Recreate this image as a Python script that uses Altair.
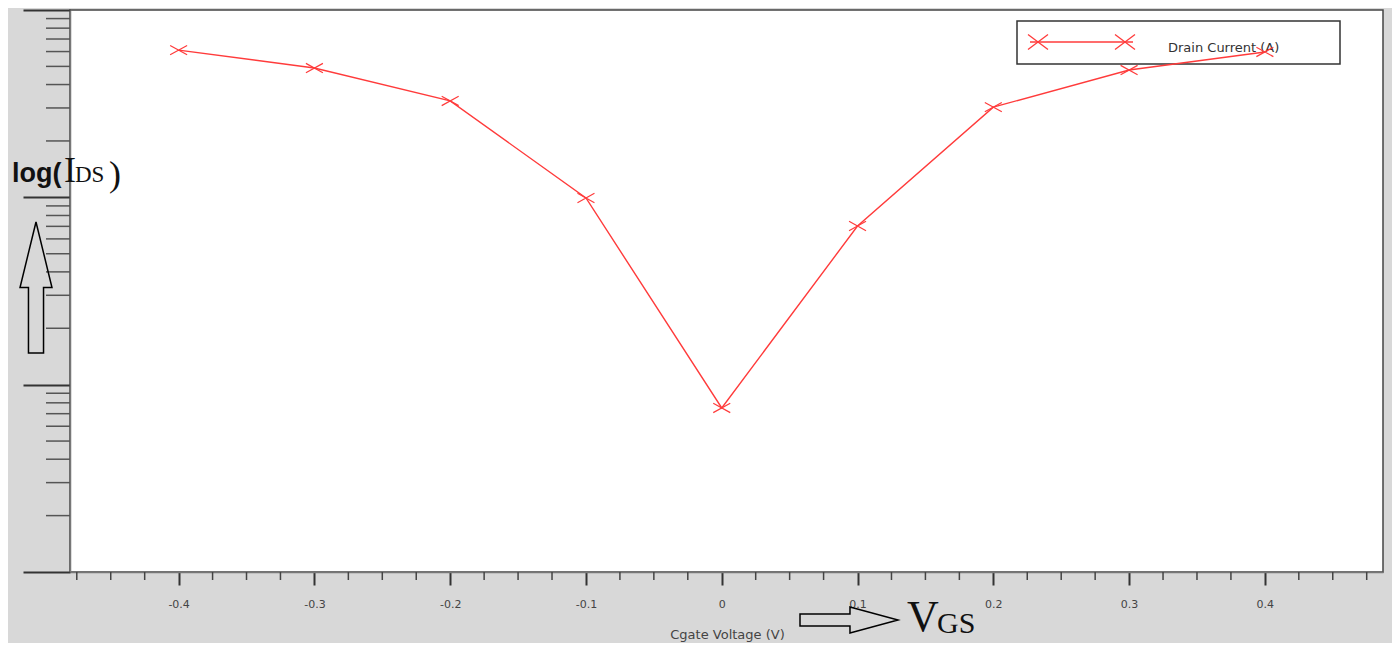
import altair as alt
import pandas as pd

# ---- data ----
vgs = [-0.4, -0.3, -0.2, -0.1, 0.0, 0.1, 0.2, 0.3, 0.4]
ids = [6.11e-5, 4.90e-5, 3.27e-5, 9.92e-6, 7.51e-7, 7.03e-6, 3.03e-5, 4.78e-5, 5.97e-5]

x_major = [-0.4, -0.3, -0.2, -0.1, 0.0, 0.1, 0.2, 0.3, 0.4]
x_minor = [-0.475, -0.45, -0.425, -0.375, -0.35, -0.325, -0.275, -0.25, -0.225,
           -0.175, -0.15, -0.125, -0.075, -0.05, -0.025, 0.025, 0.05, 0.075,
           0.125, 0.15, 0.175, 0.225, 0.25, 0.275, 0.325, 0.35, 0.375,
           0.425, 0.45, 0.475]
y_major = [1e-7, 1e-6, 1e-5, 1e-4]
y_decades = [1e-7, 1e-6, 1e-5]
y_mantissas = [2, 3, 4, 5, 6, 7, 8, 9]
y_minor = [m * d for d in y_decades for m in y_mantissas]

x_title = "Cgate Voltage (V)"
legend_label = "Drain Current (A)"

RED = "#ff3b3b"
CROSS = "M-1,-0.55L1,0.55M-1,0.55L1,-0.55"
CROSS_L = "M-1,-0.75L1,0.75M-1,0.75L1,-0.75"
UP_ARROW = "M0,-1L0.244,0L0.115,0L0.115,1L-0.115,1L-0.115,0L-0.244,0Z"
RIGHT_ARROW = "M-1,-0.122L0.02,-0.122L0.02,-0.265L1,0L0.02,0.265L0.02,0.122L-1,0.122Z"

df = pd.DataFrame({"vgs": vgs, "ids": ids})
df_xminor = pd.DataFrame({"vgs": x_minor})
df_yminor = pd.DataFrame({"ids": y_minor})
one = pd.DataFrame({"k": [0]})

xscale = alt.Scale(domain=[-0.48, 0.487], nice=False, zero=False)
yscale = alt.Scale(type="log", domain=[1e-7, 1e-4], nice=False)

xaxis = alt.Axis(values=x_major, labelExpr="'' + datum.value", grid=False,
                 tickSize=13, tickWidth=2, tickColor="#333",
                 domainColor="#777", domainWidth=1.5,
                 labelFont="DejaVu Sans", labelFontSize=11, labelColor="#444",
                 labelPadding=13, title=x_title, titleFont="DejaVu Sans",
                 titleFontSize=13, titleFontWeight="normal", titleColor="#444",
                 titleX=657, titleY=66, titleAlign="center",
                 titleBaseline="alphabetic")
yaxis = alt.Axis(values=y_major, labels=False, grid=False, tickSize=47,
                 tickWidth=2, tickColor="#333", domainColor="#777",
                 domainWidth=1.5, title=None)

X = alt.X("vgs:Q", scale=xscale, axis=xaxis)
Y = alt.Y("ids:Q", scale=yscale, axis=yaxis)

# minor ticks
xminor = alt.Chart(df_xminor).mark_rule(color="#444", strokeWidth=1.5).encode(
    x=X, y=alt.value(562), y2=alt.value(570))
yminor = alt.Chart(df_yminor).mark_rule(color="#555", strokeWidth=1.5).encode(
    y=Y, x=alt.value(-24), x2=alt.value(0))

# legend (manual)
leg_box = alt.Chart(one).mark_rect(fill="white", stroke="#333", strokeWidth=1.5).encode(
    x=alt.value(947), x2=alt.value(1270), y=alt.value(11), y2=alt.value(54))
leg_line = alt.Chart(one).mark_rule(color=RED, strokeWidth=1.5).encode(
    x=alt.value(960), x2=alt.value(1063), y=alt.value(32))
leg_c1 = alt.Chart(one).mark_point(shape=CROSS_L, size=400, filled=False,
                                   stroke=RED, strokeWidth=1.3, opacity=1).encode(
    x=alt.value(968), y=alt.value(32))
leg_c2 = alt.Chart(one).mark_point(shape=CROSS_L, size=400, filled=False,
                                   stroke=RED, strokeWidth=1.3, opacity=1).encode(
    x=alt.value(1055), y=alt.value(32))
leg_text = alt.Chart(one).mark_text(text=legend_label, font="DejaVu Sans", fontSize=13,
                                    color="#333", align="left", baseline="middle").encode(
    x=alt.value(1098), y=alt.value(38))

# data
line = alt.Chart(df).mark_line(color=RED, strokeWidth=1.4).encode(x=X, y=Y)
pts = alt.Chart(df).mark_point(shape=CROSS, size=289, filled=False, stroke=RED,
                               strokeWidth=1.2, opacity=1).encode(x=X, y=Y)

# annotations
t_log = alt.Chart(one).mark_text(text="log(", font="Liberation Sans", fontSize=27,
                                 fontWeight="bold", color="#111", align="left",
                                 baseline="alphabetic").encode(x=alt.value(-58), y=alt.value(172))
t_I = alt.Chart(one).mark_text(text="I", font="Liberation Serif", fontSize=36,
                               color="#111", align="left", baseline="alphabetic").encode(
    x=alt.value(-6), y=alt.value(172))
t_DS = alt.Chart(one).mark_text(text="DS", font="Liberation Serif", fontSize=23,
                                color="#111", align="left", baseline="alphabetic").encode(
    x=alt.value(5), y=alt.value(172))
t_par = alt.Chart(one).mark_text(text=")", font="Liberation Serif", fontSize=36,
                                 color="#111", align="left", baseline="alphabetic").encode(
    x=alt.value(39), y=alt.value(176))
up_arrow = alt.Chart(one).mark_point(shape=UP_ARROW, size=17161, filled=False,
                                     stroke="black", strokeWidth=1.5, opacity=1).encode(
    x=alt.value(-34), y=alt.value(277.5))
right_arrow = alt.Chart(one).mark_point(shape=RIGHT_ARROW, size=9604, filled=False,
                                        stroke="black", strokeWidth=1.5, opacity=1).encode(
    x=alt.value(779), y=alt.value(610))
t_V = alt.Chart(one).mark_text(text="V", font="Liberation Serif", fontSize=44,
                               color="#111", align="left", baseline="alphabetic").encode(
    x=alt.value(837), y=alt.value(621))
t_GS = alt.Chart(one).mark_text(text="GS", font="Liberation Serif", fontSize=30,
                                color="#111", align="left", baseline="alphabetic").encode(
    x=alt.value(867), y=alt.value(623))

chart = alt.layer(
    leg_box, leg_line, leg_c1, leg_c2, leg_text,
    line, pts, xminor, yminor,
    t_log, t_I, t_DS, t_par, up_arrow, right_arrow, t_V, t_GS,
).properties(
    width=1313, height=562,
    padding={"left": 62, "top": 2, "right": 9, "bottom": 71},
    autosize=alt.AutoSizeParams(type="none"),
).configure(background="#d8d8d8").configure_view(
    fill="white", stroke="#444", strokeWidth=1.5)

chart.save("out.html", embed_options={"renderer": "svg", "actions": False})
